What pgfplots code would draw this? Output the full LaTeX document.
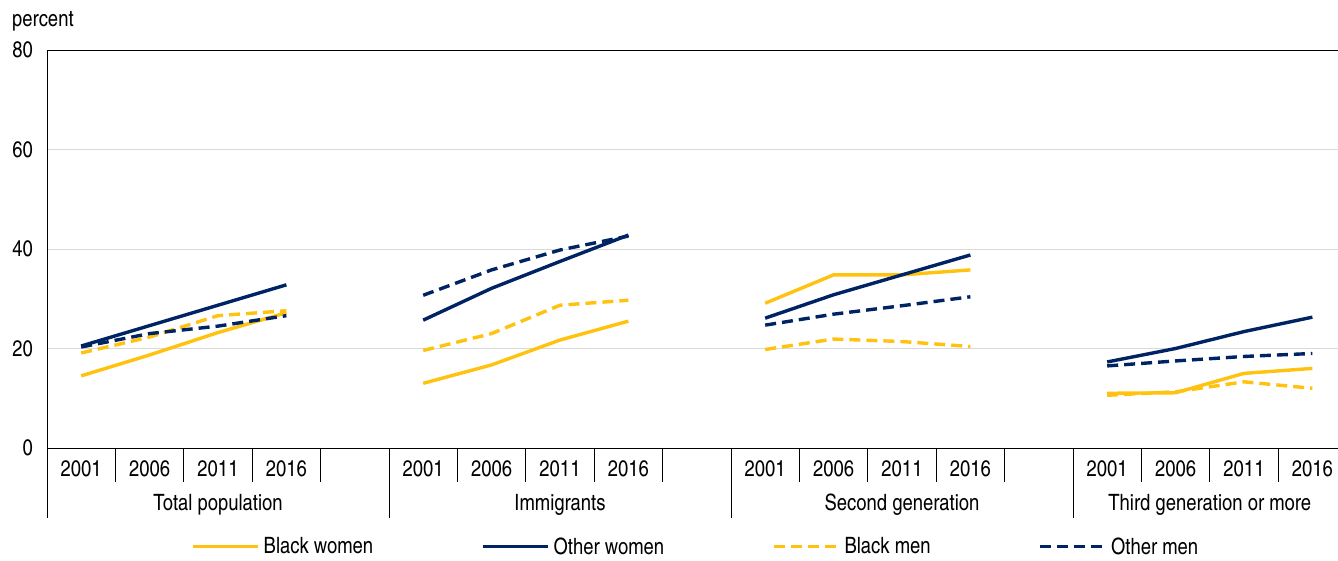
\documentclass[border=0pt]{standalone}
\usepackage{fontspec}
\setmainfont{texgyreheroscn-regular}[Extension=.otf]
\usepackage{pgfplots}
\pgfplotsset{compat=1.18}

\definecolor{cyellow}{RGB}{255,194,14}
\definecolor{cnavy}{RGB}{0,36,99}

\begin{document}
\begin{tikzpicture}
\useasboundingbox (-47pt,-112pt) rectangle (1291pt,448pt);
\begin{axis}[
    at={(0,0)}, anchor=south west,
    scale only axis,
    width=1299.6pt, height=398pt,
    xmin=-0.5, xmax=18.5,
    ymin=0, ymax=80,
    ytick={0,20,40,60,80},
    xtick={0,1,2,3,5,6,7,8,10,11,12,13,15,16,17,18},
    xticklabels={2001,2006,2011,2016,2001,2006,2011,2016,2001,2006,2011,2016,2001,2006,2011,2016},
    extra x ticks={2,7,12,16.5},
    extra x tick labels={Total population,Immigrants,Second generation,Third generation or more},
    extra x tick style={major tick length=0pt, xticklabel style={yshift=-36pt}},
    major tick length=0pt,
    ymajorgrids,
    grid style={gray!30, line width=0.8pt},
    axis line style={black, line width=0.9pt},
    font=\fontsize{22.5}{26}\selectfont,
    /pgf/number format/assume math mode=true,
    xticklabel style={anchor=center, yshift=-21pt, inner sep=0pt},
    yticklabel style={anchor=east, inner sep=0pt, xshift=-14pt},
    ylabel={percent},
    ylabel style={rotate=-90, at={(axis description cs:0,1)}, anchor=base west, xshift=-35pt, yshift=24pt, inner sep=0pt},
    clip=false,
    unbounded coords=jump,
    legend columns=4,
    legend style={draw=none, fill=none, at={(axis description cs:0.5,-0.2475)}, anchor=center,
        /tikz/every even column/.append style={column sep=104pt},
        nodes={inner xsep=4pt, inner ysep=1pt},
        font=\fontsize{22.5}{26}\selectfont},
    legend image code/.code={\draw[#1] (0pt,0pt) -- (65pt,0pt);},
    legend cell align=left,
]
\addplot[cyellow, line width=3.4pt] coordinates {
  (0,14.5)(1,18.7)(2,23.2)(3,27.2)(4,nan)
  (5,13.0)(6,16.7)(7,21.7)(8,25.5)(9,nan)
  (10,29.1)(11,34.8)(12,34.8)(13,35.8)(14,nan)
  (15,11.0)(16,11.1)(17,15.0)(18,16.0)};
\addlegendentry{Black women}
\addplot[cnavy, line width=3.4pt] coordinates {
  (0,20.5)(1,24.6)(2,28.7)(3,32.8)(4,nan)
  (5,25.7)(6,32.1)(7,37.5)(8,42.8)(9,nan)
  (10,26.1)(11,30.8)(12,34.8)(13,38.8)(14,nan)
  (15,17.3)(16,20.0)(17,23.4)(18,26.3)};
\addlegendentry{Other women}
\addplot[cyellow, line width=3.4pt, dash pattern=on 11pt off 6pt] coordinates {
  (0,19.1)(1,22.3)(2,26.6)(3,27.6)(4,nan)
  (5,19.6)(6,23.0)(7,28.7)(8,29.7)(9,nan)
  (10,19.8)(11,21.9)(12,21.4)(13,20.4)(14,nan)
  (15,10.6)(16,11.3)(17,13.3)(18,12.0)};
\addlegendentry{Black men}
\addplot[cnavy, line width=3.4pt, dash pattern=on 11pt off 6pt] coordinates {
  (0,20.3)(1,23.0)(2,24.5)(3,26.6)(4,nan)
  (5,30.7)(6,35.8)(7,39.8)(8,42.6)(9,nan)
  (10,24.7)(11,26.9)(12,28.6)(13,30.4)(14,nan)
  (15,16.5)(16,17.5)(17,18.4)(18,19.0)};
\addlegendentry{Other men}
\pgfplotsinvokeforeach{0.5,1.5,2.5,3.5,5.5,6.5,7.5,8.5,10.5,11.5,12.5,13.5,15.5,16.5,17.5,18.5}{
  \draw[black, line width=0.9pt] (axis cs:#1,0) -- ([yshift=-34pt]axis cs:#1,0);
}
\pgfplotsinvokeforeach{-0.5,4.5,9.5,14.5}{
  \draw[black, line width=0.9pt] (axis cs:#1,0) -- ([yshift=-70pt]axis cs:#1,0);
}
\end{axis}
\end{tikzpicture}
\end{document}
